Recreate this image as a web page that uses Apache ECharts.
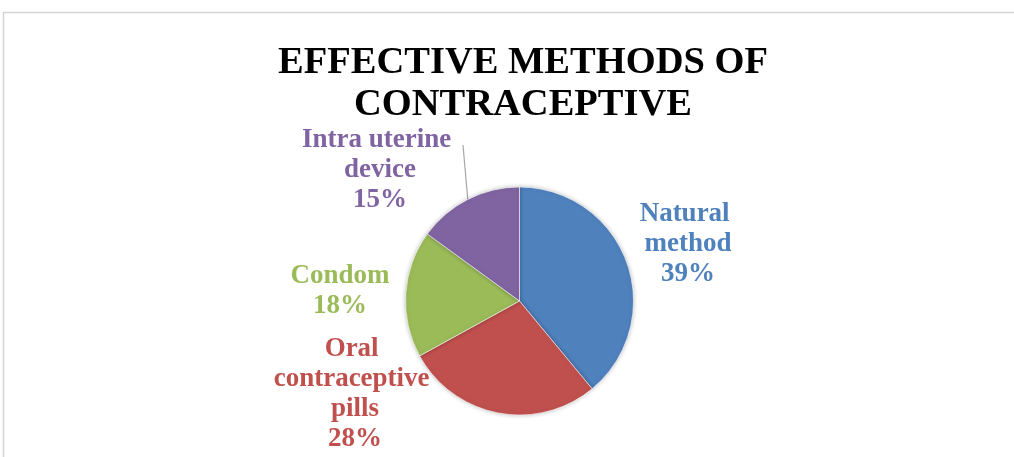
<!DOCTYPE html>
<html>
<head>
<meta charset="utf-8">
<script src="https://cdn.jsdelivr.net/npm/echarts@6/dist/echarts.min.js"></script>
<style>
  html, body { margin: 0; padding: 0; background: #fff; }
  #chart { width: 1014px; height: 457px; }
</style>
</head>
<body>
<div id="chart"></div>
<script>
// Contraceptive methods share (percent)
const categories = ['Natural method', 'Oral contraceptive pills', 'Condom', 'Intra uterine device'];
const shares = [39, 28, 18, 15];
const sliceColors = ['#4f81bd', '#c0504d', '#9bbb59', '#8064a2'];
const titleText = 'EFFECTIVE METHODS OF\nCONTRACEPTIVE';

// Label block centres around the pie
const labelSpots = [[688, 244], [355, 394], [340, 291], [380, 170]];
const leaderIndex = 3;

const serif = '"Liberation Serif", "DejaVu Serif", serif';

const chart = echarts.init(document.getElementById('chart'), null, { renderer: 'canvas' });

chart.setOption({
  backgroundColor: '#ffffff',
  animation: false,
  title: {
    text: titleText,
    left: 518,
    top: 37,
    textAlign: 'center',
    textStyle: {
      fontFamily: serif,
      fontWeight: 'bold',
      fontSize: 38.5,
      lineHeight: 42,
      color: '#000000'
    }
  },
  graphic: [{
    type: 'rect',
    shape: { x: 3.5, y: 12.5, width: 1100, height: 500 },
    style: { fill: 'none', stroke: '#d4d4d4', lineWidth: 1.5 },
    silent: true,
    z: -1
  }],
  series: [{
    type: 'pie',
    center: [519.5, 301],
    radius: 114,
    startAngle: 90,
    clockwise: true,
    itemStyle: {
      borderColor: '#ffffff',
      borderWidth: 0.6,
      shadowBlur: 4,
      shadowColor: 'rgba(0,0,0,0.25)'
    },
    label: {
      show: true,
      position: 'outside',
      fontFamily: serif,
      fontWeight: 'bold',
      fontSize: 27,
      lineHeight: 30,
      align: 'center',
      width: 165,
      overflow: 'break',
      formatter: function (p) {
        return p.name + '\n' + Math.round(p.percent) + '%';
      }
    },
    labelLine: { show: false },
    labelLayout: function (p) {
      const spot = labelSpots[p.dataIndex];
      const out = { x: spot[0], y: spot[1], align: 'center', verticalAlign: 'middle' };
      if (p.dataIndex === leaderIndex && p.labelLinePoints) {
        const start = p.labelLinePoints[0];
        out.labelLinePoints = [start, [spot[0] + 83, spot[1] - 25]];
      }
      return out;
    },
    data: categories.map(function (name, i) {
      const item = {
        name: name,
        value: shares[i],
        itemStyle: { color: sliceColors[i] },
        label: { color: sliceColors[i] }
      };
      if (i === leaderIndex) {
        item.labelLine = { show: true, length: 10, length2: 10, lineStyle: { color: '#a6a6a6', width: 1.2 } };
      }
      return item;
    })
  }]
});
</script>
</body>
</html>
